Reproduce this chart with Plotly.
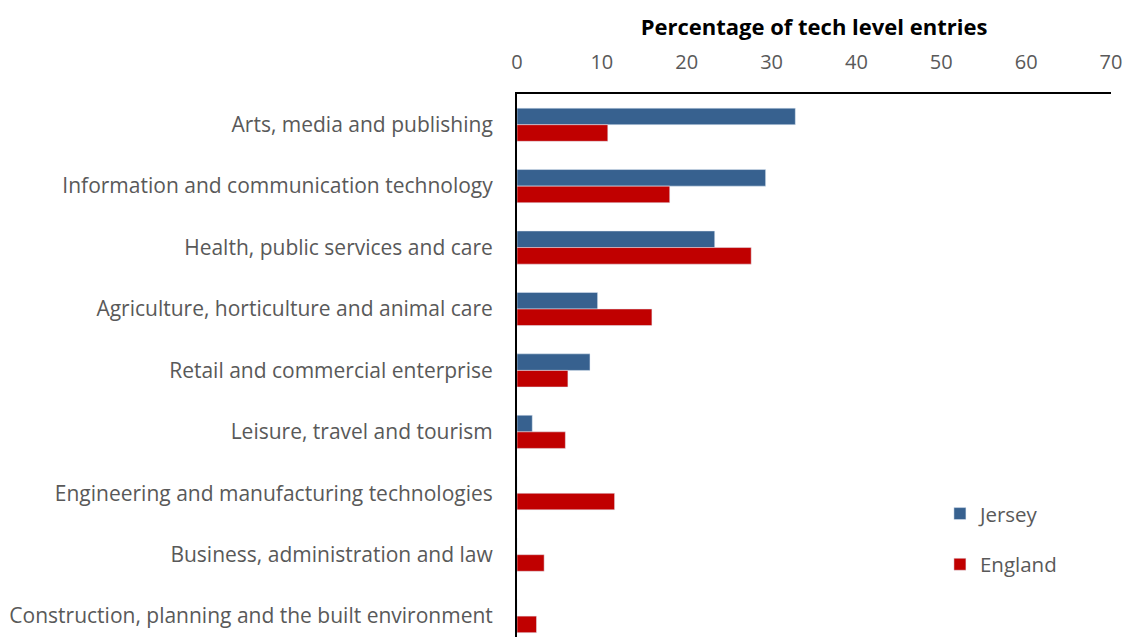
import plotly.graph_objects as go

categories = [
    "Arts, media and publishing",
    "Information and communication technology",
    "Health, public services and care",
    "Agriculture, horticulture and animal care",
    "Retail and commercial enterprise",
    "Leisure, travel and tourism",
    "Engineering and manufacturing technologies",
    "Business, administration and law",
    "Construction, planning and the built environment",
]
jersey = [32.8, 29.3, 23.3, 9.5, 8.6, 1.8, 0, 0, 0]
england = [10.7, 18.0, 27.6, 15.9, 6.0, 5.7, 11.5, 3.2, 2.3]

FONT = "Open Sans"
GRAY = "#595959"

fig = go.Figure()
fig.add_trace(go.Bar(y=categories, x=jersey, orientation="h", name="Jersey",
                     marker=dict(color="#37618F"), legendgroup="a"))
fig.add_trace(go.Bar(y=categories, x=england, orientation="h", name="England",
                     marker=dict(color="#C00000"), legendgroup="b"))

fig.update_layout(
    width=1130, height=637,
    margin=dict(l=517, r=19, t=94, b=0),
    paper_bgcolor="white", plot_bgcolor="white",
    barmode="group", bargap=0.46, bargroupgap=0,
    font=dict(family=FONT, size=20, color=GRAY),
    legend=dict(x=0.712, y=0.18, xanchor="left", yanchor="middle",
                font=dict(size=20.5, color=GRAY), tracegroupgap=21,
                bgcolor="rgba(0,0,0,0)"),
    xaxis=dict(side="top", range=[0, 70], dtick=10, showgrid=False, zeroline=False,
               showline=True, linecolor="black", linewidth=2,
               ticks="outside", ticklen=15, tickcolor="rgba(0,0,0,0)",
               tickfont=dict(size=20, color=GRAY),
               title=dict(text="<b>Percentage of tech level entries</b>",
                          font=dict(size=22, color="black"), standoff=6)),
    yaxis=dict(range=[8.34, -0.5], showgrid=False, zeroline=False,
               showline=True, linecolor="black", linewidth=2,
               ticks="outside", ticklen=18, tickcolor="rgba(0,0,0,0)",
               tickfont=dict(size=21, color=GRAY)),
)

fig.write_html("out.html")
